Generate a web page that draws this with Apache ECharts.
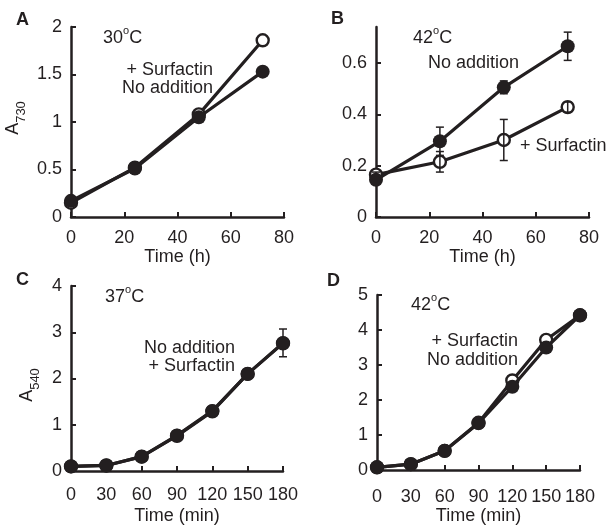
<!DOCTYPE html>
<html><head><meta charset="utf-8">
<script src="https://cdn.jsdelivr.net/npm/echarts@6/dist/echarts.min.js"></script>
<style>html,body{margin:0;padding:0;background:#fff}#c{width:615px;height:526px}</style>
</head><body><div id="c"></div>
<script>
// Panel A (30°C, A730 vs h)
const timeH = [0, 24, 48, 72];
const aSurf = [0.15, 0.52, 1.08, 1.86];
const aNone = [0.17, 0.51, 1.05, 1.53];
// Panel B (42°C, A730 vs h)
const bNone = [0.145, 0.295, 0.505, 0.665];
const bNoneErr = [0.01, 0.055, 0.025, 0.055];
const bSurf = [0.165, 0.215, 0.30, 0.428];
const bSurfErr = [0.01, 0.04, 0.08, 0.02];
// Panel C (37°C, A540 vs min)
const timeMin = [0, 30, 60, 90, 120, 150, 180];
const cNone = [0.1, 0.12, 0.31, 0.77, 1.3, 2.1, 2.77];
const cSurf = [0.1, 0.12, 0.31, 0.76, 1.29, 2.1, 2.76];
const cNoneErr = [0, 0, 0, 0, 0, 0, 0.3];
// Panel D (42°C, A540 vs min)
const dSurf = [0.08, 0.17, 0.55, 1.35, 2.56, 3.72, 4.42];
const dNone = [0.08, 0.17, 0.55, 1.34, 2.38, 3.5, 4.42];
// tick labels
const hTicks = [0, 20, 40, 60, 80];
const minTicks = [0, 30, 60, 90, 120, 150, 180];
const bYTicks = [0, 0.2, 0.4, 0.6];

const INK = '#231f20';
const FONT = 'Liberation Sans, Arial, sans-serif';
const pairs = (xs, ys) => xs.map((x, i) => [x, ys[i]]);
const errData = (xs, ys, es) => xs.map((x, i) => [x, ys[i] - es[i], ys[i] + es[i]]).filter((d, i) => es[i] > 0);

function axisCommon() {
  return {
    axisLine: { show: true, onZero: false, lineStyle: { color: INK, width: 2.5 } },
    axisTick: { show: true, inside: true, length: 5, lineStyle: { color: INK, width: 2 } },
    splitLine: { show: false },
    axisLabel: { color: INK, fontSize: 18, fontFamily: FONT }
  };
}
const grids = [
  { left: 71, top: 27, width: 213, height: 190 },
  { left: 376, top: 27, width: 213, height: 190 },
  { left: 71, top: 286, width: 212, height: 186 },
  { left: 377, top: 295, width: 203, height: 179 }
];
const xAxes = [0, 1, 2, 3].map(i => {
  const a = axisCommon();
  const isH = i < 2;
  return Object.assign(a, {
    type: 'value', gridIndex: i, min: 0, max: isH ? 80 : 180, interval: isH ? 20 : 30,
    axisLabel: Object.assign(a.axisLabel, { margin: isH ? 12 : (i === 2 ? 15 : 18), customValues: isH ? hTicks : minTicks }),
    axisTick: Object.assign(a.axisTick, { customValues: isH ? hTicks : minTicks }),
    name: isH ? 'Time (h)' : 'Time (min)', nameLocation: 'middle',
    nameGap: isH ? 27 : (i === 2 ? 36 : 34),
    nameTextStyle: { color: INK, fontSize: 18, fontFamily: FONT }
  });
});
const yDefs = [
  { max: 2, interval: 0.5 },
  { max: 0.74, interval: 0.2, custom: bYTicks },
  { max: 4, interval: 1 },
  { max: 5, interval: 1 }
];
const yAxes = yDefs.map((d, i) => {
  const a = axisCommon();
  const o = Object.assign(a, { type: 'value', gridIndex: i, min: 0, max: d.max, interval: d.interval });
  o.axisLabel.margin = 9;
  if (d.custom) { o.axisLabel.customValues = d.custom; o.axisTick.customValues = d.custom; }
  return o;
});

function lineSeries(idx, xs, ys, open) {
  return {
    type: 'line', xAxisIndex: idx, yAxisIndex: idx, data: pairs(xs, ys),
    symbol: 'circle', symbolSize: open ? 12 : 14, showSymbol: true,
    lineStyle: { color: INK, width: 3.2 },
    itemStyle: open ? { color: '#fff', borderColor: INK, borderWidth: 2.4 } : { color: INK, borderWidth: 0 },
    z: open ? 2 : 4, animation: false
  };
}
function errSeries(idx, data) {
  return {
    type: 'custom', xAxisIndex: idx, yAxisIndex: idx, data: data, z: 3, animation: false,
    renderItem: (params, api) => {
      const lo = api.coord([api.value(0), api.value(1)]);
      const hi = api.coord([api.value(0), api.value(2)]);
      const w = 4;
      const st = { stroke: INK, lineWidth: 1.5 };
      return { type: 'group', children: [
        { type: 'line', shape: { x1: lo[0], y1: lo[1], x2: hi[0], y2: hi[1] }, style: st },
        { type: 'line', shape: { x1: lo[0] - w, y1: lo[1], x2: lo[0] + w, y2: lo[1] }, style: st },
        { type: 'line', shape: { x1: hi[0] - w, y1: hi[1], x2: hi[0] + w, y2: hi[1] }, style: st }
      ]};
    }
  };
}

const series = [
  lineSeries(0, timeH, aSurf, true), lineSeries(0, timeH, aNone, false),
  errSeries(1, errData(timeH, bNone, bNoneErr)), errSeries(1, errData(timeH, bSurf, bSurfErr)),
  lineSeries(1, timeH, bSurf, true), lineSeries(1, timeH, bNone, false),
  errSeries(2, errData(timeMin, cNone, cNoneErr)),
  lineSeries(2, timeMin, cSurf, true), lineSeries(2, timeMin, cNone, false),
  lineSeries(3, timeMin, dSurf, true), lineSeries(3, timeMin, dNone, false)
];

function txt(x, y, text, align, extra) {
  return Object.assign({ type: 'text', x: x, y: y, z: 10, style: {
    text: text, fill: INK, font: '18px ' + FONT, align: align || 'left', verticalAlign: 'middle'
  }}, extra || {});
}
function temp(x, y, num) {
  return { type: 'text', x: x, y: y, z: 10, style: {
    text: '{n|' + num + '}{s|o}{n|C}', align: 'left', verticalAlign: 'middle', fill: INK,
    rich: {
      n: { fontSize: 18, fontFamily: FONT, fill: INK, lineHeight: 22, verticalAlign: 'bottom' },
      s: { fontSize: 11, fontFamily: FONT, fill: INK, lineHeight: 22, verticalAlign: 'top' }
    }
  }};
}
function yname(x, y, sub) {
  return { type: 'text', x: x, y: y, rotation: Math.PI / 2, z: 10, style: {
    text: '{n|A}{s|' + sub + '}', align: 'center', verticalAlign: 'middle', fill: INK,
    rich: {
      n: { fontSize: 18, fontFamily: FONT, fill: INK, lineHeight: 24, verticalAlign: 'top' },
      s: { fontSize: 13, fontFamily: FONT, fill: INK, lineHeight: 24, verticalAlign: 'bottom' }
    }
  }};
}
function letter(x, y, t) {
  return { type: 'text', x: x, y: y, z: 10, style: {
    text: t, fill: INK, font: 'bold 18px ' + FONT, align: 'left', verticalAlign: 'middle'
  }};
}

const graphic = [
  letter(16, 20, 'A'), letter(331, 19, 'B'), letter(16, 280, 'C'), letter(327, 281, 'D'),
  temp(103, 36, '30'), temp(413, 36, '42'), temp(105, 295, '37'), temp(411, 303, '42'),
  txt(213, 70, '+ Surfactin', 'right'), txt(213, 88, 'No addition', 'right'),
  txt(428, 63, 'No addition', 'left'), txt(520, 146, '+ Surfactin', 'left'),
  txt(235, 348, 'No addition', 'right'), txt(235, 366, '+ Surfactin', 'right'),
  txt(518, 341, '+ Surfactin', 'right'), txt(518, 360, 'No addition', 'right'),
  yname(16, 118, '730'), yname(30, 385, '540')
];

const chart = echarts.init(document.getElementById('c'), null, { renderer: 'canvas' });
chart.setOption({
  animation: false, backgroundColor: '#fff',
  textStyle: { fontFamily: FONT },
  grid: grids, xAxis: xAxes, yAxis: yAxes, series: series, graphic: graphic
});
</script></body></html>
